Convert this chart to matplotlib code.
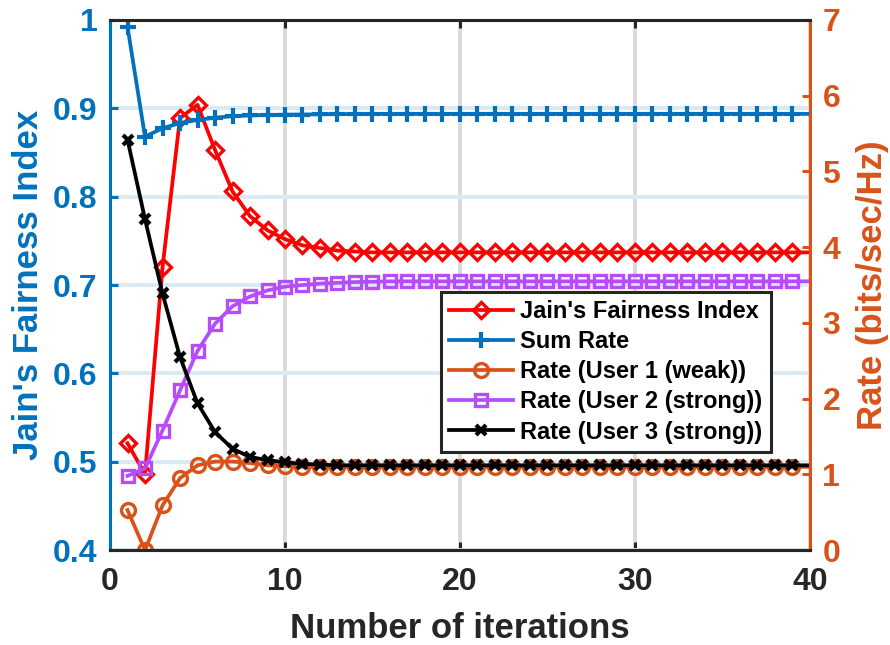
import numpy as np
import matplotlib
matplotlib.use('Agg')
import matplotlib.pyplot as plt

plt.rcParams['font.family'] = ['Liberation Sans', 'DejaVu Sans']
plt.rcParams['font.weight'] = 'bold'

iterations = np.arange(1, 41)

jain = [0.521, 0.486, 0.720, 0.889, 0.904, 0.853, 0.806, 0.778, 0.762, 0.752,
        0.745, 0.742, 0.739, 0.738, 0.737, 0.737, 0.737, 0.737, 0.737, 0.737,
        0.737, 0.737, 0.737, 0.737, 0.737, 0.737, 0.737, 0.737, 0.737, 0.737,
        0.737, 0.737, 0.737, 0.737, 0.737, 0.737, 0.737, 0.737, 0.737, 0.737]
sum_rate = [6.91, 5.46, 5.57, 5.64, 5.68, 5.71, 5.73, 5.74, 5.745, 5.75,
            5.752, 5.755, 5.757, 5.758, 5.76, 5.76, 5.76, 5.76, 5.76, 5.76,
            5.76, 5.76, 5.76, 5.76, 5.76, 5.76, 5.76, 5.76, 5.76, 5.76,
            5.76, 5.76, 5.76, 5.76, 5.76, 5.76, 5.76, 5.76, 5.76, 5.76]
rate_user1 = [0.53, 0.0, 0.59, 0.95, 1.12, 1.17, 1.17, 1.15, 1.12, 1.11,
              1.10, 1.10, 1.10, 1.10, 1.10, 1.10, 1.10, 1.10, 1.10, 1.10,
              1.10, 1.10, 1.10, 1.10, 1.10, 1.10, 1.10, 1.10, 1.10, 1.10,
              1.10, 1.10, 1.10, 1.10, 1.10, 1.10, 1.10, 1.10, 1.10, 1.10]
rate_user2 = [0.98, 1.08, 1.58, 2.11, 2.63, 2.99, 3.22, 3.35, 3.43, 3.48,
              3.50, 3.52, 3.53, 3.54, 3.545, 3.55, 3.55, 3.55, 3.55, 3.55,
              3.55, 3.55, 3.55, 3.55, 3.55, 3.55, 3.55, 3.55, 3.55, 3.55,
              3.55, 3.55, 3.55, 3.55, 3.55, 3.55, 3.55, 3.55, 3.55, 3.55]
rate_user3 = [5.42, 4.37, 3.39, 2.55, 1.94, 1.56, 1.34, 1.23, 1.19, 1.16,
              1.14, 1.13, 1.12, 1.12, 1.12, 1.12, 1.12, 1.12, 1.12, 1.12,
              1.12, 1.12, 1.12, 1.12, 1.12, 1.12, 1.12, 1.12, 1.12, 1.12,
              1.12, 1.12, 1.12, 1.12, 1.12, 1.12, 1.12, 1.12, 1.12, 1.12]

blue = '#0072BD'
orange = '#D95319'
dark = '#262626'
marks = list(range(39))

fig = plt.figure(figsize=(8.9, 6.45), dpi=100)
ax = fig.add_axes([0.1236, 0.147, 0.7865, 0.822])
ax2 = ax.twinx()

ax.grid(axis='y', color='#D9EAF5', linewidth=2.8)
ax.grid(axis='x', color='#DADADA', linewidth=2.8)
ax.set_axisbelow(True)

lw, mew = 2.7, 2.4
h1, = ax.plot(iterations, jain, color='red', lw=lw, marker='D', ms=8.5,
              mfc='none', mew=mew, markevery=marks, label="Jain's Fairness Index")
h2, = ax2.plot(iterations, sum_rate, color=blue, lw=lw, marker='+', ms=11,
               mew=mew + 0.6, markevery=marks, label='Sum Rate')
h3, = ax2.plot(iterations, rate_user1, color=orange, lw=lw, marker='o', ms=10,
               mfc='none', mew=mew, markevery=marks, label='Rate (User 1 (weak))')
h4, = ax2.plot(iterations, rate_user2, color='#B54DFF', lw=lw, marker='s', ms=8.5,
               mfc='none', mew=mew, markevery=marks, label='Rate (User 2 (strong))')
h5, = ax2.plot(iterations, rate_user3, color='black', lw=lw, marker='x', ms=7,
               mew=mew + 0.6, markevery=marks, label='Rate (User 3 (strong))')

ax.set_xlim(0, 40)
ax.set_ylim(0.4, 1.0)
ax2.set_ylim(0, 7)
ax.set_xticks([0, 10, 20, 30, 40])
ax.set_yticks([0.4, 0.5, 0.6, 0.7, 0.8, 0.9, 1.0])
ax.set_yticklabels(['0.4', '0.5', '0.6', '0.7', '0.8', '0.9', '1'])
ax2.set_yticks(range(8))

for a in (ax, ax2):
    for s in a.spines.values():
        s.set_linewidth(2.2)
        s.set_color(dark)
ax.spines['left'].set_color(blue)
ax2.spines['left'].set_color(blue)
ax2.spines['right'].set_color(orange)
ax.spines['right'].set_visible(False)

ax.tick_params(axis='x', direction='in', length=6, width=2.2, colors=dark,
               labelsize=23, pad=12, top=True)
ax.tick_params(axis='y', direction='in', length=6, width=2.2, colors=blue,
               labelsize=23, pad=9, right=False)
ax2.tick_params(axis='y', direction='in', length=6, width=2.2, colors=orange,
                labelsize=23, pad=9)

ax.set_xlabel('Number of iterations', fontsize=25, fontweight='bold',
              color=dark, labelpad=11)
ax.set_ylabel("Jain's Fairness Index", fontsize=25, fontweight='bold',
              color=blue, labelpad=6)
ax2.set_ylabel('Rate (bits/sec/Hz)', fontsize=25, fontweight='bold',
               color=orange, labelpad=11)

leg = ax2.legend(handles=[h1, h2, h3, h4, h5], loc='upper left',
                 bbox_to_anchor=(0.473, 0.487), fontsize=17, fancybox=False,
                 framealpha=1, edgecolor=dark, handlelength=2.7,
                 handletextpad=0.3, labelspacing=0.3, borderpad=0.35,
                 borderaxespad=0)
leg.get_frame().set_linewidth(2.2)
for t in leg.get_texts():
    t.set_fontweight('bold')

fig.savefig('out.png', dpi=100)
